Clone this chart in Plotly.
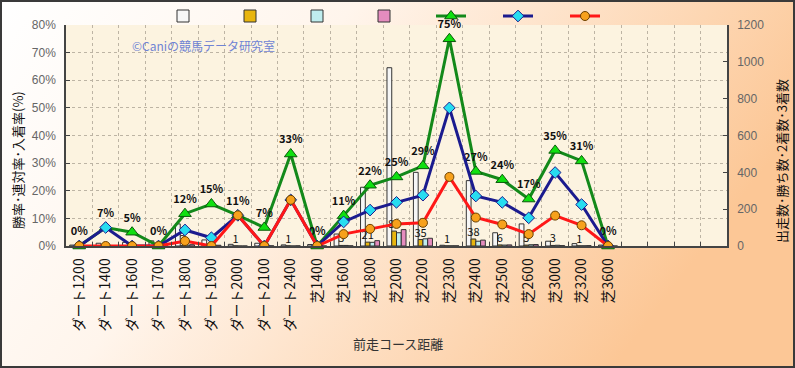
import base64
import plotly.graph_objects as go

# ---------------- data ----------------
categories = ["ダート1200", "ダート1400", "ダート1600", "ダート1700", "ダート1800",
              "ダート1900", "ダート2000", "ダート2100", "ダート2400",
              "芝1400", "芝1600", "芝1800", "芝2000", "芝2200", "芝2300",
              "芝2400", "芝2500", "芝2600", "芝3000", "芝3200", "芝3600"]
runs = [5, 15, 20, 28, 120, 33, 9, 15, 6, 8, 65, 319, 968, 400, 4, 355, 72, 120, 26, 13, 5]
wins = [0, 0, 0, 0, 2, 0, 1, 0, 1, 0, 3, 21, 81, 35, 1, 38, 6, 5, 3, 1, 0]
seconds = [0, 1, 0, 0, 5, 1, 0, 0, 0, 0, 3, 20, 72, 39, 1, 26, 5, 7, 4, 1, 0]
thirds = [0, 0, 1, 0, 7, 4, 0, 1, 1, 0, 1, 29, 89, 42, 1, 32, 6, 8, 2, 2, 0]
win_rate = [0, 0, 0, 0, 1.8, 0, 11.1, 0, 16.7, 0, 4.3, 6.2, 8.0, 8.4, 25.0, 10.3, 7.8, 4.3, 11.0, 7.5, 0]
quinella_rate = [0, 6.7, 0, 0, 5.8, 3.0, 11.1, 0, 16.7, 0, 8.7, 13.0, 15.8, 18.4, 50.0, 18.1, 15.8, 10.2, 26.6, 15.0, 0]
place_rate = [0, 6.7, 5.0, 0, 11.7, 15.2, 11.1, 6.7, 33.3, 0, 11.0, 22.0, 25.0, 29.0, 75.0, 27.0, 24.0, 17.0, 34.6, 30.8, 0]
pct_ticks = [0, 10, 20, 30, 40, 50, 60, 70, 80]
pct_tick_labels = ["0%", "10%", "20%", "30%", "40%", "50%", "60%", "70%", "80%"]
count_ticks = [0, 200, 400, 600, 800, 1000, 1200]
n_slots = 25  # category slots on the axis (last ones empty)

W, H = 795, 368
ML, MR, MT, MB = 66, 68, 25, 122
PW, PH = W - ML - MR, H - MT - MB

xs = list(range(len(categories)))
JP = "Noto Sans CJK JP"
SANS = "Liberation Sans"

fig = go.Figure()

bar_specs = [
    ("出走数", runs, "#F6F6F6"),
    ("勝ち数", wins, "#E8B50E"),
    ("2着数", seconds, "#BFEDEE"),
    ("3着数", thirds, "#E58CBE"),
]
for nm, vals, col in bar_specs:
    kw = {}
    if nm == "勝ち数":
        kw = dict(text=[str(v) if v else "" for v in vals], textposition="outside",
                  textfont=dict(family=JP, size=11, color="#111"),
                  constraintext="none", cliponaxis=False, textangle=0)
    fig.add_trace(go.Bar(x=xs, y=vals, name="", hovertext=nm, xaxis="x", yaxis="y",
                         marker=dict(color=col, line=dict(color="#333333", width=1)),
                         **kw))

line_specs = [
    ("入着率", place_rate, "#13891A", "triangle-up", "#10E010", "#0A5A0A", 11),
    ("連対率", quinella_rate, "#1B1B8E", "diamond", "#27DDF0", "#1B1B8E", 9),
    ("勝率", win_rate, "#FF1717", "circle", "#F7A11C", "#6A4000", 9),
]
for nm, vals, lc, sym, mc, mlc, ms in line_specs:
    kw = {}
    mode = "lines+markers"
    if nm == "入着率":
        mode = "lines+markers+text"
        kw = dict(texttemplate="%{y:.0f}%", textposition="top center",
                  textfont=dict(family=JP, size=11, color="#111", weight="bold"),
                  cliponaxis=False)
    fig.add_trace(go.Scatter(x=xs, y=vals, name="", hovertext=nm, mode=mode,
                             xaxis="x", yaxis="y2",
                             line=dict(color=lc, width=3),
                             marker=dict(symbol=sym, size=ms, color=mc,
                                         line=dict(color=mlc, width=1)),
                             **kw))

# dummy trace to carry the slot-boundary grid axis
fig.add_trace(go.Scatter(x=[None], y=[None], xaxis="x2", yaxis="y",
                         showlegend=False, hoverinfo="skip"))

svg = (
    '<svg xmlns="http://www.w3.org/2000/svg" width="795" height="368" '
    'viewBox="0 0 795 368" preserveAspectRatio="none">'
    '<defs><linearGradient id="g" x1="0" y1="0" x2="1" y2="0.35">'
    '<stop offset="0" stop-color="#FFFFFF"/>'
    '<stop offset="0.4" stop-color="#FFF5EC"/>'
    '<stop offset="1" stop-color="#FCC796"/>'
    '</linearGradient></defs>'
    '<rect x="1" y="1" width="793" height="366" fill="url(#g)" '
    'stroke="#3A3A3A" stroke-width="2"/></svg>'
)
src = "data:image/svg+xml;base64," + base64.b64encode(svg.encode()).decode()

grid = dict(gridcolor="#BDB4A4", griddash="dot", gridwidth=1)

fig.update_layout(
    width=W, height=H, autosize=False,
    margin=dict(l=ML, r=MR, t=MT, b=MB, autoexpand=False),
    paper_bgcolor="white", plot_bgcolor="rgba(0,0,0,0)",
    barmode="group", bargap=0.28, bargroupgap=0,
    showlegend=True,
    legend=dict(orientation="h", xref="container", yref="container",
                x=163 / W, xanchor="left", y=1 - 16 / H, yanchor="middle",
                bgcolor="rgba(0,0,0,0)", font=dict(size=10),
                entrywidth=22, entrywidthmode="pixels", traceorder="normal"),
    xaxis=dict(domain=[0, 1], range=[-0.5, n_slots - 0.5], anchor="y", automargin=False,
               tickmode="array", tickvals=xs, ticktext=categories, tickangle=-90,
               tickfont=dict(family=JP, size=14, color="#111"), ticklabelstandoff=5,
               showgrid=False, zeroline=False, showline=True,
               linecolor="#444444", linewidth=1.5, ticks=""),
    xaxis2=dict(overlaying="x", anchor="y", range=[-0.5, n_slots - 0.5], automargin=False,
                tickmode="linear", tick0=0.5, dtick=1, showgrid=True, **grid,
                ticks="inside", ticklen=4, tickcolor="#444444",
                showticklabels=False, zeroline=False, showline=False, side="bottom"),
    yaxis=dict(side="right", range=[0, 1200], tickmode="array", tickvals=count_ticks,
               automargin=False, ticklabelstandoff=6,
               showgrid=False, zeroline=False, showline=True, linecolor="#444444",
               linewidth=1.5, ticks="inside", ticklen=4, tickcolor="#444444",
               tickfont=dict(family=SANS, size=12, color="#666666"), anchor="x"),
    yaxis2=dict(overlaying="y", side="left", range=[0, 80], tickmode="array",
                automargin=False, ticklabelstandoff=6,
                tickvals=pct_ticks, ticktext=pct_tick_labels, showgrid=True, **grid,
                zeroline=False, showline=True, linecolor="#444444", linewidth=1.5,
                ticks="inside", ticklen=4, tickcolor="#444444",
                tickfont=dict(family=SANS, size=12, color="#666666"), anchor="x"),
    images=[dict(source=src, xref="paper", yref="paper",
                 x=-ML / PW, y=1 + MT / PH, sizex=W / PW, sizey=H / PH,
                 xanchor="left", yanchor="top", sizing="stretch", layer="below")],
    shapes=[dict(type="rect", xref="paper", yref="paper", x0=0, x1=1, y0=0, y1=1,
                 fillcolor="#FCF3E0", line=dict(width=0), layer="below")],
    annotations=[
        dict(text="勝率･連対率･入着率(%)", xref="paper", yref="paper",
             x=(17 - ML) / PW, y=1 - (160 - MT) / PH, textangle=-90, showarrow=False,
             font=dict(family=JP, size=13, color="#111"), xanchor="center", yanchor="middle"),
        dict(text="出走数･勝ち数･2着数･3着数", xref="paper", yref="paper",
             x=(781 - ML) / PW, y=1 - (161 - MT) / PH, textangle=-90, showarrow=False,
             font=dict(family=JP, size=13, color="#111"), xanchor="center", yanchor="middle"),
        dict(text="前走コース距離", xref="paper", yref="paper",
             x=(398 - ML) / PW, y=1 - (343 - MT) / PH, showarrow=False,
             font=dict(family=JP, size=13, color="#333"), xanchor="center", yanchor="middle"),
        dict(text="©Caniの競馬データ研究室", xref="paper", yref="paper",
             x=(130 - ML) / PW, y=1 - (45 - MT) / PH, showarrow=False,
             font=dict(family=JP, size=12, color="#7084D4"), xanchor="left", yanchor="middle"),
    ],
)

fig.write_html("out.html", config={"displayModeBar": False},
               post_script="document.body.style.margin='0';document.body.style.overflow='hidden';")
